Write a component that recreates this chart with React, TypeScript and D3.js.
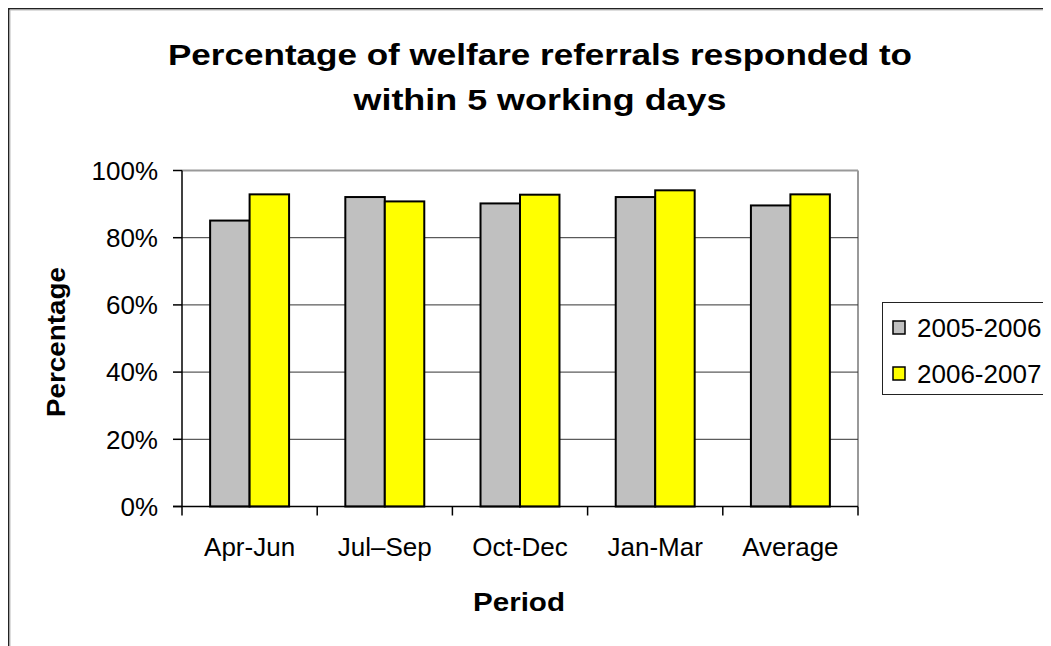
import React from "react";
import * as d3 from "d3";

const categories = ["Apr-Jun", "Jul\u2013Sep", "Oct-Dec", "Jan-Mar", "Average"];
const seriesNames = ["2005-2006", "2006-2007"];
const values2005 = [85.1, 92.1, 90.2, 92.1, 89.6];
const values2006 = [92.9, 90.8, 92.8, 94.1, 92.9];
const yTicks = [0, 20, 40, 60, 80, 100];
const colors = ["#C0C0C0", "#FFFF00"];

const W = 1043;
const H = 638;
const OFF = 8;
const plot = { left: 182 - OFF, right: 858 - OFF, top: 170.5 - OFF, bottom: 506.5 - OFF };
const FONT = "Liberation Sans, Arial, Helvetica, sans-serif";

export default function App() {
  const x = d3
    .scaleBand<string>()
    .domain(categories)
    .range([plot.left, plot.right])
    .paddingInner(0.416)
    .paddingOuter(0.208);
  const xs = d3.scaleBand<string>().domain(seriesNames).range([0, x.bandwidth()]);
  const y = d3.scaleLinear().domain([0, 100]).range([plot.bottom, plot.top]);
  const data = [values2005, values2006];
  const step = (plot.right - plot.left) / categories.length;

  return (
    <svg width={W} height={H} style={{ display: "block", fontFamily: FONT }}>
      <rect x={0.5} y={0.5} width={W + 50} height={H + 50} fill="#fff" stroke="#222" strokeWidth={2} />
      <line x1={2} y1={2} x2={W} y2={2} stroke="#bbb" />
      <line x1={2} y1={2} x2={2} y2={H} stroke="#bbb" />

      <text
        x={540 - OFF}
        y={65 - OFF}
        textAnchor="middle"
        fontSize={30}
        fontWeight="bold"
        textLength={744}
        lengthAdjust="spacingAndGlyphs"
      >
        Percentage of welfare referrals responded to
      </text>
      <text
        x={540 - OFF}
        y={110 - OFF}
        textAnchor="middle"
        fontSize={30}
        fontWeight="bold"
        textLength={373}
        lengthAdjust="spacingAndGlyphs"
      >
        within 5 working days
      </text>

      {/* plot border */}
      <line x1={plot.left} y1={plot.top} x2={plot.right} y2={plot.top} stroke="#999" strokeWidth={2} />
      <line x1={plot.right} y1={plot.top} x2={plot.right} y2={plot.bottom} stroke="#999" strokeWidth={2} />

      {/* gridlines */}
      {yTicks
        .filter((t) => t > 0 && t < 100)
        .map((t) => (
          <line key={"g" + t} x1={plot.left} x2={plot.right} y1={y(t)} y2={y(t)} stroke="#333" strokeWidth={1} />
        ))}

      {/* bars */}
      {categories.map((c, i) =>
        seriesNames.map((s, j) => (
          <rect
            key={c + s}
            x={(x(c) as number) + (xs(s) as number)}
            y={y(data[j][i])}
            width={xs.bandwidth()}
            height={y(0) - y(data[j][i])}
            fill={colors[j]}
            stroke="#000"
            strokeWidth={2}
          />
        ))
      )}

      {/* axes */}
      <line x1={plot.left} y1={plot.top} x2={plot.left} y2={plot.bottom} stroke="#000" strokeWidth={1.5} />
      <line x1={plot.left - 9} y1={plot.bottom} x2={plot.right} y2={plot.bottom} stroke="#000" strokeWidth={1.5} />
      {yTicks.map((t) => (
        <g key={"t" + t}>
          <line x1={plot.left - 9} x2={plot.left} y1={y(t)} y2={y(t)} stroke="#000" strokeWidth={1.5} />
          <text x={plot.left - 24} y={y(t)} dy="0.36em" textAnchor="end" fontSize={26}>
            {t + "%"}
          </text>
        </g>
      ))}
      {d3.range(categories.length + 1).map((k) => (
        <line
          key={"xt" + k}
          x1={plot.left + k * step}
          x2={plot.left + k * step}
          y1={plot.bottom}
          y2={plot.bottom + 9}
          stroke="#000"
          strokeWidth={1.5}
        />
      ))}
      {categories.map((c) => (
        <text key={"xl" + c} x={(x(c) as number) + x.bandwidth() / 2} y={555.7 - OFF} textAnchor="middle" fontSize={26}>
          {c}
        </text>
      ))}

      <text
        x={519 - OFF}
        y={611 - OFF}
        textAnchor="middle"
        fontSize={26}
        fontWeight="bold"
        textLength={92}
        lengthAdjust="spacingAndGlyphs"
      >
        Period
      </text>
      <text
        transform={`translate(${65 - OFF},${342 - OFF}) rotate(-90)`}
        textAnchor="middle"
        fontSize={26}
        fontWeight="bold"
        textLength={150}
        lengthAdjust="spacingAndGlyphs"
      >
        Percentage
      </text>

      {/* legend */}
      <rect x={882.5 - OFF} y={302.5 - OFF} width={200} height={92} fill="#fff" stroke="#222" strokeWidth={1} />
      {seriesNames.map((s, j) => (
        <g key={"lg" + s}>
          <rect
            x={893 - OFF}
            y={321 + j * 46 - OFF}
            width={12}
            height={13}
            fill={colors[j]}
            stroke="#000"
            strokeWidth={1.5}
          />
          <text x={917 - OFF} y={327.5 + j * 46 - OFF} dy="0.36em" fontSize={26}>
            {s}
          </text>
        </g>
      ))}
    </svg>
  );
}
